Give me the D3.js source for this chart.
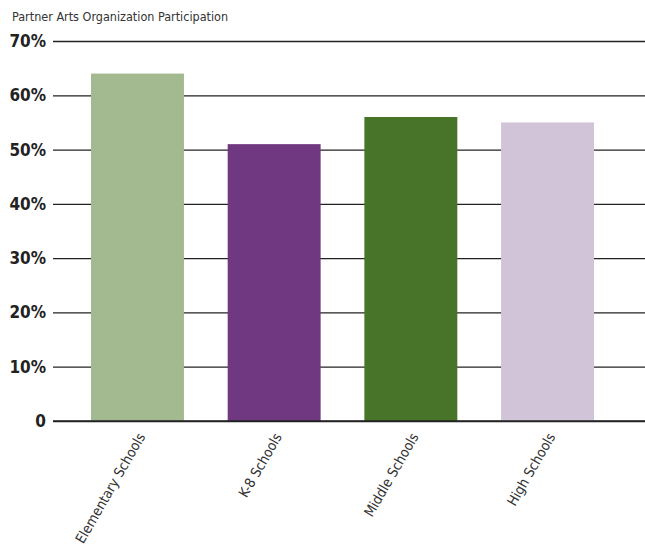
<!DOCTYPE html>
<html>
<head>
<meta charset="utf-8">
<script src="https://cdn.jsdelivr.net/npm/d3@7"></script>
<style>
  body { margin: 0; background: #fff; }
  svg text { font-family: "DejaVu Sans", sans-serif; font-stretch: condensed; }
</style>
</head>
<body>
<svg id="chart" width="645" height="550"></svg>
<script>
// data
var schools = ["Elementary Schools", "K-8 Schools", "Middle Schools", "High Schools"]
var participation = [64, 51, 56, 55]
var barColors = ["#a3b98f", "#713882", "#48742a", "#d1c4d9"]
var yTicks = [0, 10, 20, 30, 40, 50, 60, 70]

var svg = d3.select("#chart")

// positions
var plotLeft = 53, plotRight = 645
var plotTop = 41, plotBottom = 421

var x = d3.scaleBand()
    .domain(schools)
    .range([plotLeft, 632])
    .paddingInner(0.32)
    .paddingOuter(0.278)

var y = d3.scaleLinear()
    .domain([0, 70])
    .range([plotBottom, plotTop])

// title
svg.append("text")
    .attr("x", 12)
    .attr("y", 21)
    .text("Partner Arts Organization Participation")
    .style("font-size", "12.5px")
    .style("fill", "#333")

// gridlines + tick labels
var yAxis = d3.axisLeft(y)
    .tickValues(yTicks)
    .tickSize(-(plotRight - plotLeft))
    .tickPadding(7)
    .tickFormat(function(d){ return d == 0 ? "0" : d + "%" })

var gy = svg.append("g")
    .attr("transform", "translate(" + plotLeft + ",0)")
    .call(yAxis)
gy.select(".domain").remove()
gy.selectAll(".tick line")
    .attr("stroke", "#222")
    .attr("stroke-width", 1.3)
gy.selectAll(".tick text")
    .style("font-size", "17px")
    .style("font-weight", "bold")
    .style("fill", "#222")

// bars
svg.selectAll(".bar")
    .data(schools)
    .enter()
    .append("rect")
    .attr("class", "bar")
    .attr("x", function(d){ return x(d) })
    .attr("y", function(d, i){ return y(participation[i]) })
    .attr("width", x.bandwidth())
    .attr("height", function(d, i){ return y(0) - y(participation[i]) })
    .style("fill", function(d, i){ return barColors[i] })

// baseline on top of bars
svg.append("line")
    .attr("x1", plotLeft).attr("x2", plotRight)
    .attr("y1", y(0)).attr("y2", y(0))
    .attr("stroke", "#222")
    .attr("stroke-width", 1.3)

// rotated category labels
svg.selectAll(".xlabel")
    .data(schools)
    .enter()
    .append("text")
    .attr("class", "xlabel")
    .attr("transform", function(d){
        return "translate(" + (x(d) + x.bandwidth() / 2 + 4) + "," + 434 + ") rotate(-60)"
    })
    .attr("text-anchor", "end")
    .attr("dy", "0.35em")
    .text(function(d){ return d })
    .style("font-size", "14px")
    .style("fill", "#333")
</script>
</body>
</html>
